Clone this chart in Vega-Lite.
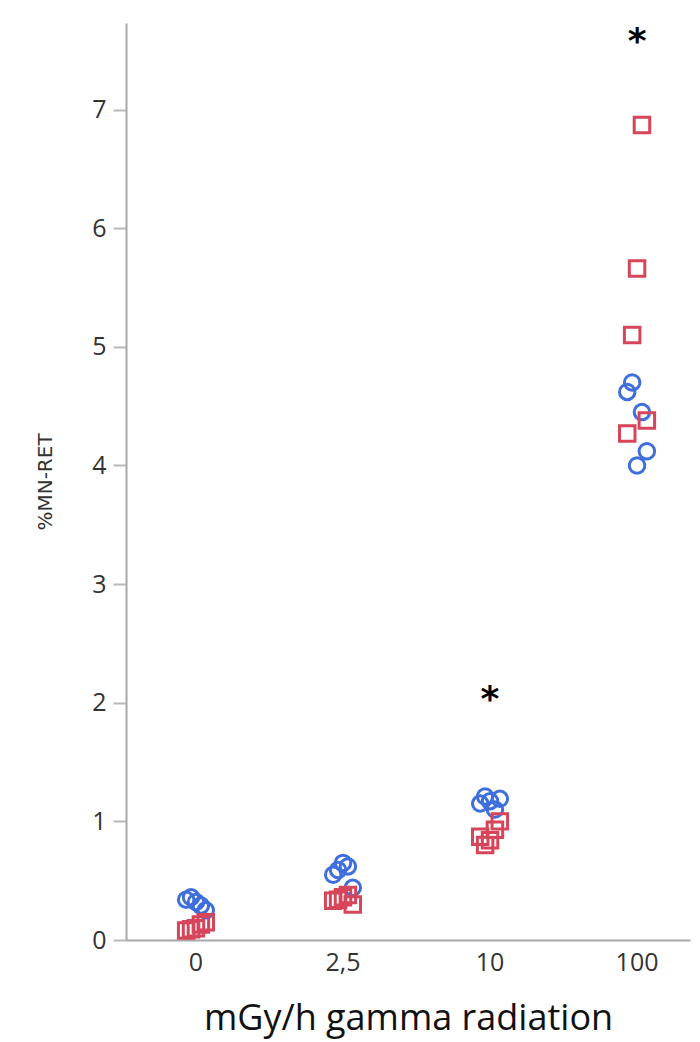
{
  "$schema": "https://vega.github.io/schema/vega-lite/v6.json",
  "width": 564,
  "height": 917,
  "autosize": {"type": "none"},
  "padding": {"left": 126, "top": 23, "right": 10, "bottom": 102},
  "background": "white",
  "config": {
    "view": {"stroke": null},
    "font": "Open Sans",
    "axis": {"grid": false, "labelFont": "Open Sans", "titleFont": "Open Sans", "titleFontWeight": "normal"}
  },
  "datasets": {
    "mn": [
      {"dose": "0", "group": "A", "animal": "1", "mn_ret": 0.34},
      {"dose": "0", "group": "A", "animal": "2", "mn_ret": 0.36},
      {"dose": "0", "group": "A", "animal": "3", "mn_ret": 0.32},
      {"dose": "0", "group": "A", "animal": "4", "mn_ret": 0.29},
      {"dose": "0", "group": "A", "animal": "5", "mn_ret": 0.25},
      {"dose": "0", "group": "B", "animal": "1", "mn_ret": 0.08},
      {"dose": "0", "group": "B", "animal": "2", "mn_ret": 0.09},
      {"dose": "0", "group": "B", "animal": "3", "mn_ret": 0.10},
      {"dose": "0", "group": "B", "animal": "4", "mn_ret": 0.13},
      {"dose": "0", "group": "B", "animal": "5", "mn_ret": 0.15},
      {"dose": "2,5", "group": "A", "animal": "1", "mn_ret": 0.55},
      {"dose": "2,5", "group": "A", "animal": "2", "mn_ret": 0.59},
      {"dose": "2,5", "group": "A", "animal": "3", "mn_ret": 0.65},
      {"dose": "2,5", "group": "A", "animal": "4", "mn_ret": 0.62},
      {"dose": "2,5", "group": "A", "animal": "5", "mn_ret": 0.44},
      {"dose": "2,5", "group": "B", "animal": "1", "mn_ret": 0.33},
      {"dose": "2,5", "group": "B", "animal": "2", "mn_ret": 0.34},
      {"dose": "2,5", "group": "B", "animal": "3", "mn_ret": 0.36},
      {"dose": "2,5", "group": "B", "animal": "4", "mn_ret": 0.38},
      {"dose": "2,5", "group": "B", "animal": "5", "mn_ret": 0.30},
      {"dose": "10", "group": "A", "animal": "1", "mn_ret": 1.15},
      {"dose": "10", "group": "A", "animal": "2", "mn_ret": 1.21},
      {"dose": "10", "group": "A", "animal": "3", "mn_ret": 1.17},
      {"dose": "10", "group": "A", "animal": "4", "mn_ret": 1.10},
      {"dose": "10", "group": "A", "animal": "5", "mn_ret": 1.19},
      {"dose": "10", "group": "B", "animal": "1", "mn_ret": 0.87},
      {"dose": "10", "group": "B", "animal": "2", "mn_ret": 0.80},
      {"dose": "10", "group": "B", "animal": "3", "mn_ret": 0.84},
      {"dose": "10", "group": "B", "animal": "4", "mn_ret": 0.93},
      {"dose": "10", "group": "B", "animal": "5", "mn_ret": 1.00},
      {"dose": "100", "group": "A", "animal": "1", "mn_ret": 4.62},
      {"dose": "100", "group": "A", "animal": "2", "mn_ret": 4.70},
      {"dose": "100", "group": "A", "animal": "3", "mn_ret": 4.00},
      {"dose": "100", "group": "A", "animal": "4", "mn_ret": 4.45},
      {"dose": "100", "group": "A", "animal": "5", "mn_ret": 4.12},
      {"dose": "100", "group": "B", "animal": "1", "mn_ret": 4.27},
      {"dose": "100", "group": "B", "animal": "2", "mn_ret": 5.10},
      {"dose": "100", "group": "B", "animal": "3", "mn_ret": 5.66},
      {"dose": "100", "group": "B", "animal": "4", "mn_ret": 6.87},
      {"dose": "100", "group": "B", "animal": "5", "mn_ret": 4.38}
    ],
    "significance": [
      {"dose": "10", "mn_ret": 2.02, "label": "*"},
      {"dose": "100", "mn_ret": 7.57, "label": "*"}
    ]
  },
  "layer": [
    {
      "data": {"name": "mn"},
      "mark": {"type": "point", "filled": false, "strokeWidth": 3, "size": 240, "opacity": 1},
      "encoding": {
        "x": {
          "field": "dose", "type": "nominal", "sort": ["0", "2,5", "10", "100"],
          "scale": {"type": "band", "domain": ["0", "2,5", "10", "100"], "paddingInner": 0.8, "paddingOuter": 0.318, "align": 0.591},
          "axis": {
            "title": "mGy/h gamma radiation", "titleFontSize": 36, "titleColor": "#111", "titlePadding": 26,
            "labelFontSize": 25, "labelColor": "#333", "labelPadding": 10, "labelAngle": 0,
            "ticks": false, "domainColor": "#a8a8a8", "domainWidth": 2
          }
        },
        "xOffset": {"field": "animal", "type": "nominal", "scale": {"type": "point", "padding": 1}},
        "y": {
          "field": "mn_ret", "type": "quantitative",
          "scale": {"domain": [0, 7.73], "nice": false, "zero": true},
          "axis": {
            "title": "%MN-RET", "titleFont": "DejaVu Sans", "titleFontSize": 20, "titleColor": "#333", "titlePadding": 36,
            "values": [0, 1, 2, 3, 4, 5, 6, 7], "format": "d",
            "labelFontSize": 25, "labelColor": "#333", "labelPadding": 7,
            "tickSize": 13, "tickColor": "#b8b8b8", "tickWidth": 2,
            "domainColor": "#a8a8a8", "domainWidth": 2
          }
        },
        "shape": {"field": "group", "type": "nominal", "scale": {"domain": ["A", "B"], "range": ["circle", "square"]}, "legend": null},
        "color": {"field": "group", "type": "nominal", "scale": {"domain": ["A", "B"], "range": ["#3f6fdd", "#d6455a"]}, "legend": null}
      }
    },
    {
      "data": {"name": "significance"},
      "mark": {"type": "text", "font": "DejaVu Sans", "fontWeight": "bold", "fontSize": 36, "color": "#000", "baseline": "middle", "align": "center"},
      "encoding": {
        "x": {"field": "dose", "type": "nominal", "sort": ["0", "2,5", "10", "100"]},
        "y": {"field": "mn_ret", "type": "quantitative"},
        "text": {"field": "label"}
      }
    }
  ]
}
